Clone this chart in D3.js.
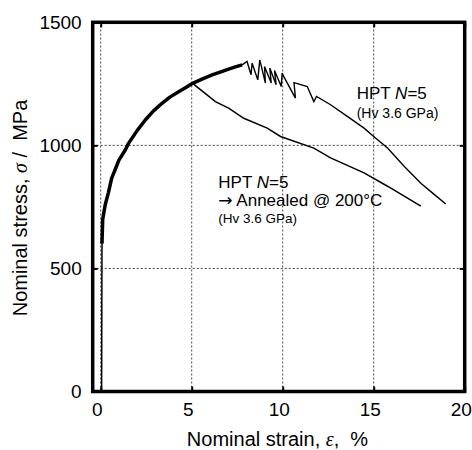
<!DOCTYPE html>
<html>
<head>
<meta charset="utf-8">
<script src="https://cdn.jsdelivr.net/npm/d3@7"></script>
<style>
  body { margin: 0; background: #fff; }
  svg { display: block; font-family: "Liberation Sans", Arial, sans-serif; }
</style>
</head>
<body>
<div id="chart"></div>
<script>
// tick values
const xTicks = [0, 5, 10, 15, 20];
const yTicks = [0, 500, 1000, 1500];
const xGrid = [0, 5, 10, 15];
const yGrid = [500, 1000];

// elastic part (strain %, stress MPa)
const elasticStrain = [0.05, 0.07];
const elasticStress = [0, 600];

// work hardening part, noisy in the original so drawn heavier
const hardStrain = [0.07, 0.11, 0.25, 0.42, 0.6, 0.79, 1.0, 1.35, 1.53, 2.0, 2.45, 2.9, 3.37, 3.8, 4.28, 4.7, 5.05, 5.6, 6.12, 6.6, 7.03, 7.4, 7.77];
const hardStress = [600, 700, 760, 807, 866, 901, 940, 981, 1008, 1060, 1103, 1140, 1171, 1196, 1218, 1236, 1252, 1270, 1286, 1299, 1310, 1319, 1327];

// HPT N=5 : serrated part and softening tail
const hptStrain = [7.77, 8.04, 8.26, 8.32, 8.63, 8.74, 9.05, 9.0, 9.37, 9.29, 9.64, 9.55, 9.92, 9.97, 10.06, 10.7, 10.62, 11.35, 11.71, 11.86, 12.63, 13.55, 14.47, 15.0, 15.76, 16.67, 17.59, 18.24, 18.96];
const hptStress = [1327, 1341, 1287, 1334, 1266, 1347, 1253, 1320, 1253, 1314, 1246, 1304, 1239, 1294, 1279, 1192, 1255, 1239, 1178, 1199, 1165, 1118, 1070, 1036, 989, 915, 846, 806, 762];

// HPT N=5 -> annealed @ 200C branch
const annStrain = [5.05, 6.3, 7.03, 7.86, 9.15, 9.88, 11.71, 12.63, 14.47, 15.76, 17.59];
const annStress = [1252, 1178, 1151, 1110, 1070, 1036, 989, 949, 888, 834, 753];

const W = 472, H = 450;
const svg = d3.select("#chart").append("svg").attr("width", W).attr("height", H);

const x = d3.scaleLinear().domain([-0.44, 20]).range([92.7, 464.7]);
const y = d3.scaleLinear().domain([0, 1500]).range([391.5, 22.3]);

// gridlines
svg.append("g").selectAll("line.gx").data(xGrid).join("line")
  .attr("x1", d => x(d)).attr("x2", d => x(d))
  .attr("y1", y(0)).attr("y2", y(1500))
  .attr("stroke", "#444").attr("stroke-width", 1).attr("stroke-dasharray", "2,2");
svg.append("g").selectAll("line.gy").data(yGrid).join("line")
  .attr("x1", x.range()[0]).attr("x2", x.range()[1])
  .attr("y1", d => y(d)).attr("y2", d => y(d))
  .attr("stroke", "#444").attr("stroke-width", 1).attr("stroke-dasharray", "2,2");

// curves
const line = d3.line().x(d => x(d[0])).y(d => y(d[1]));
const pairs = (a, b) => a.map((v, i) => [v, b[i]]);

svg.append("path").datum(pairs(elasticStrain, elasticStress))
  .attr("d", line).attr("fill", "none").attr("stroke", "#000").attr("stroke-width", 1.5);
svg.append("path").datum(pairs(hardStrain, hardStress))
  .attr("d", line).attr("fill", "none").attr("stroke", "#000").attr("stroke-width", 3.5)
  .attr("stroke-linejoin", "round");
svg.append("path").datum(pairs(hptStrain, hptStress))
  .attr("d", line).attr("fill", "none").attr("stroke", "#000").attr("stroke-width", 1.4);
svg.append("path").datum(pairs(annStrain, annStress))
  .attr("d", line).attr("fill", "none").attr("stroke", "#000").attr("stroke-width", 1.5);

// axes (inward ticks)
const gx = svg.append("g").attr("transform", `translate(0,${y(0)})`)
  .call(d3.axisBottom(x).tickValues(xTicks).tickSize(-5).tickPadding(16).tickFormat(d3.format("d")));
const gy = svg.append("g").attr("transform", `translate(${x.range()[0]},0)`)
  .call(d3.axisLeft(y).tickValues(yTicks).tickSize(-5).tickPadding(11).tickFormat(d3.format("d")));
const gt = svg.append("g").attr("transform", `translate(0,${y(1500)})`)
  .call(d3.axisTop(x).tickValues(xTicks).tickSize(-5).tickFormat(""));
const gr = svg.append("g").attr("transform", `translate(${x.range()[1]},0)`)
  .call(d3.axisRight(y).tickValues(yTicks).tickSize(-5).tickFormat(""));
[gx, gy, gt, gr].forEach(g => {
  g.select(".domain").remove();
  g.selectAll(".tick line").attr("stroke", "#000").attr("stroke-width", 2);
});
gx.selectAll(".tick text").attr("font-size", 19).attr("fill", "#000").attr("font-family", null).attr("dx", -4).attr("dy", "0.45em");
gy.selectAll(".tick text").attr("font-size", 19).attr("fill", "#000").attr("font-family", null).attr("dy", "0.3em");

// frame
svg.append("rect")
  .attr("x", x.range()[0]).attr("y", y.range()[1])
  .attr("width", x.range()[1] - x.range()[0]).attr("height", y.range()[0] - y.range()[1])
  .attr("fill", "none").attr("stroke", "#000").attr("stroke-width", 3.5);

// axis titles
const xl = svg.append("text").attr("x", 277.5).attr("y", 445.5)
  .attr("text-anchor", "middle").attr("font-size", 20);
xl.append("tspan").text("Nominal strain, ");
xl.append("tspan").attr("font-family", "Liberation Serif, serif").attr("font-style", "italic").text("ε");
xl.append("tspan").text(",\u00a0 %");

const yl = svg.append("text").attr("transform", "translate(26.5,208) rotate(-90)")
  .attr("text-anchor", "middle").attr("font-size", 20);
yl.append("tspan").text("Nominal stress, ");
yl.append("tspan").attr("font-family", "Liberation Serif, serif").attr("font-style", "italic").text("σ");
yl.append("tspan").text("\u00a0/\u00a0 MPa");

// annotations
function label(x0, y0, lines) {
  lines.forEach(l => {
    const t = svg.append("text").attr("x", x0).attr("y", y0 + l.dy).attr("font-size", l.size);
    l.parts.forEach(p => {
      const s = t.append("tspan").text(p.t);
      if (p.it) s.attr("font-style", "italic");
      if (p.font) s.attr("font-family", p.font);
    });
  });
}
label(356.7, 99, [
  { dy: 0, size: 17, parts: [{ t: "HPT " }, { t: "N", it: true }, { t: "=5" }] },
  { dy: 18.5, size: 14, parts: [{ t: "(Hv 3.6 GPa)" }] }
]);
label(218.3, 187.8, [
  { dy: 0, size: 17, parts: [{ t: "HPT " }, { t: "N", it: true }, { t: "=5" }] },
  { dy: 18.2, size: 17, parts: [{ t: "→", font: "DejaVu Sans" }, { t: " Annealed @ 200°C" }] },
  { dy: 34.8, size: 13.5, parts: [{ t: "(Hv 3.6 GPa)" }] }
]);
</script>
</body>
</html>
